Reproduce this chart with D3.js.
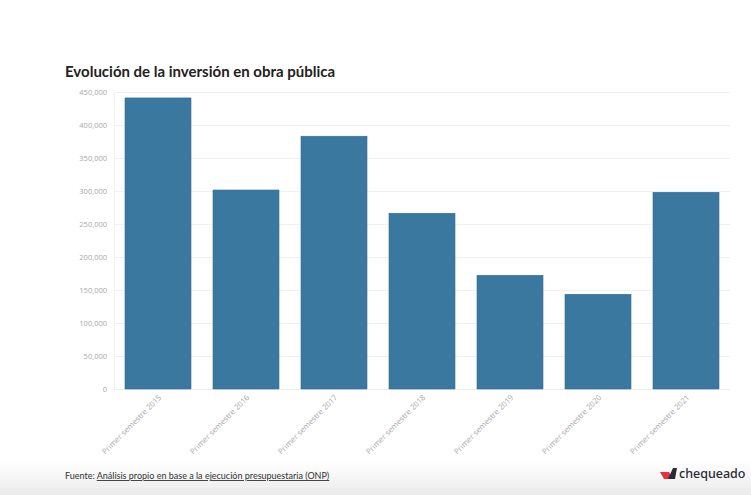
<!DOCTYPE html>
<html>
<head>
<meta charset="utf-8">
<script src="https://cdn.jsdelivr.net/npm/d3@7"></script>
<style>
  html, body { margin: 0; padding: 0; background: #fff; }
  svg { display: block; }
</style>
</head>
<body>
<svg id="chart" width="751" height="495"></svg>
<script>
const categories = ["Primer semestre 2015", "Primer semestre 2016", "Primer semestre 2017",
  "Primer semestre 2018", "Primer semestre 2019", "Primer semestre 2020", "Primer semestre 2021"];
const values = [441000, 301500, 383000, 266200, 172300, 143500, 298000];
const yTicks = [0, 50000, 100000, 150000, 200000, 250000, 300000, 350000, 400000, 450000];

const svg = d3.select("#chart");
const W = 751, H = 495;
const mLeft = 114, mRight = 730, mTop = 92, mBottom = 389;

// footer gradient
const defs = svg.append("defs");
const grad = defs.append("linearGradient").attr("id", "foot").attr("x1", 0).attr("y1", 0).attr("x2", 0).attr("y2", 1);
grad.append("stop").attr("offset", "0%").attr("stop-color", "#ffffff");
grad.append("stop").attr("offset", "100%").attr("stop-color", "#ebebeb");
svg.append("rect").attr("x", 0).attr("y", 462).attr("width", W).attr("height", H - 462).attr("fill", "url(#foot)");

const x = d3.scaleBand().domain(categories).range([mLeft, mRight]).paddingInner(0.25).paddingOuter(0.125);
const y = d3.scaleLinear().domain([0, 450000]).range([mBottom, mTop]);

// gridlines
svg.append("g").selectAll("line").data(yTicks).join("line")
  .attr("x1", mLeft).attr("x2", mRight)
  .attr("y1", d => y(d) + 0.5).attr("y2", d => y(d) + 0.5)
  .attr("stroke", "#f0f0f0").attr("stroke-width", 1);
svg.append("line").attr("x1", mLeft + 0.5).attr("x2", mLeft + 0.5).attr("y1", mTop).attr("y2", mBottom)
  .attr("stroke", "#f2f2f2");

// y axis
const yAxis = svg.append("g").attr("transform", `translate(${mLeft - 5},0)`)
  .call(d3.axisLeft(y).tickValues(yTicks).tickSize(0).tickPadding(2).tickFormat(d3.format(",")));
yAxis.select(".domain").remove();
yAxis.selectAll("text").attr("fill", "#a8a8a8").style("font-family", "'Open Sans', sans-serif").style("font-size", "7.5px");

// bars
svg.append("g").selectAll("rect").data(values).join("rect")
  .attr("x", (d, i) => x(categories[i]))
  .attr("width", x.bandwidth())
  .attr("y", d => y(d))
  .attr("height", d => y(0) - y(d))
  .attr("fill", "#3a78a0")
  .attr("stroke", "#336d93").attr("stroke-width", 0.6);

// x axis
const xAxis = svg.append("g").attr("transform", `translate(0,${mBottom})`)
  .call(d3.axisBottom(x).tickSize(0).tickPadding(0));
xAxis.select(".domain").remove();
xAxis.selectAll("text")
  .attr("fill", "#a8a8a8")
  .style("font-family", "'Open Sans', sans-serif").style("font-size", "7.8px")
  .attr("text-anchor", "end")
  .attr("dy", "0")
  .attr("transform", "translate(4,9) rotate(-45)");

// title
svg.append("text").attr("x", 65).attr("y", 77)
  .text("Evolución de la inversión en obra pública")
  .attr("fill", "#222").style("font-family", "Lato, sans-serif")
  .style("font-size", "15px").style("font-weight", "700");

// source
const src = svg.append("text").attr("x", 65).attr("y", 479)
  .style("font-family", "Lato, sans-serif").style("font-size", "9px").attr("fill", "#333");
src.append("tspan").text("Fuente: ");
src.append("tspan").text("Análisis propio en base a la ejecución presupuestaria (ONP)").style("text-decoration", "underline");

// logo
const lg = svg.append("g").attr("transform", "translate(660,466)");
lg.append("path").attr("d", "M0,6 L9,6 L13,13 L4,13 Z").attr("fill", "#e8303f");
lg.append("path").attr("d", "M8,13 L13,2 L17,2 L15,13 Z").attr("fill", "#2a2a33");
lg.append("text").attr("x", 19).attr("y", 12).text("chequeado")
  .attr("fill", "#2a2a33").style("font-family", "'Noto Sans', sans-serif").style("font-size", "12.5px").style("font-weight", "500");
</script>
</body>
</html>
